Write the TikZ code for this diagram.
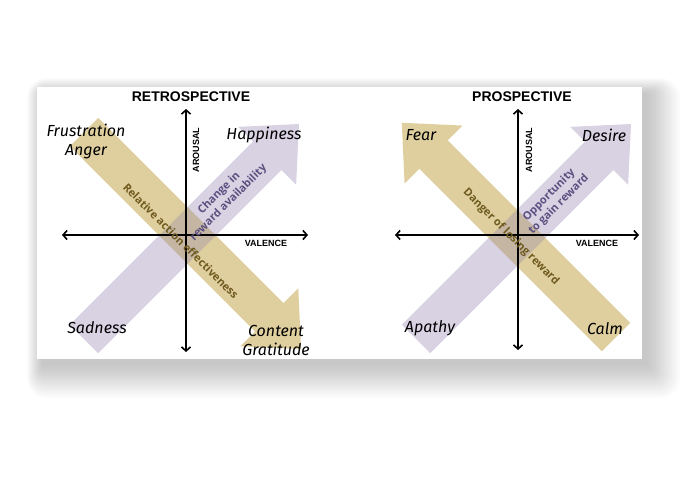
\documentclass[tikz,border=0pt]{standalone}
\usepackage{fontspec}
\setmainfont{Liberation Sans}
\newfontfamily\handfont{Fira Sans}
\newfontfamily\bandfont{Open Sans}
\usepackage{tikz}
\usetikzlibrary{arrows.meta,positioning}

\definecolor{bandtan}{RGB}{224,207,158}
\definecolor{bandlilac}{RGB}{216,210,227}
\definecolor{bandmix}{RGB}{196,182,162}
\definecolor{tantext}{RGB}{110,90,30}
\definecolor{lilactext}{RGB}{92,80,128}

% wide band arrow: tail, angle, length
\newcommand{\bandpath}[3]{[shift={#1}, rotate=#2] (0,-20) -- (#3-45,-20) -- (#3-45,-41) -- (#3,0) -- (#3-45,41) -- (#3-45,20) -- (0,20) -- cycle}

\begin{document}
\begin{tikzpicture}[x=1pt, y=-1pt,
    axis/.style={line width=1.6pt, {Straight Barb[length=4pt,width=9pt]}-{Straight Barb[length=4pt,width=9pt]}},
    title/.style={font=\fontsize{14}{16}\selectfont\bfseries},
    axlabel/.style={font=\fontsize{9}{10}\selectfont\bfseries},
    emotion/.style={font=\handfont\itshape\fontsize{16}{19}\selectfont, align=center},
    tanlabel/.style={font=\bandfont\bfseries\fontsize{11}{13}\selectfont, text=tantext, rotate=-45},
    lilaclabel/.style={font=\bandfont\bfseries\fontsize{11}{13.5}\selectfont, text=lilactext, rotate=45, align=center}]
  \useasboundingbox (0,0) rectangle (700,500);

  % shadow and panel
  \foreach \i in {1,...,20}
    \fill[black, opacity=0.013, rounded corners=\i pt] (43-\i*0.8, 94-\i*0.8) rectangle (646+\i*1.7, 364+\i*1.7);
  \fill[white] (37,87) rectangle (642,359);

  % bands
  \fill[bandlilac] \bandpath{(84,339)}{45}{304};
  \fill[bandtan] \bandpath{(84,132)}{-45}{307};
  \begin{scope}
    \clip \bandpath{(84,339)}{45}{304};
    \fill[bandmix] \bandpath{(84,132)}{-45}{307};
  \end{scope}
  \fill[bandlilac] \bandpath{(416,339)}{45}{304};
  \fill[bandtan] \bandpath{(616,337)}{135}{303};
  \begin{scope}
    \clip \bandpath{(416,339)}{45}{304};
    \fill[bandmix] \bandpath{(616,337)}{135}{303};
  \end{scope}

  % axes
  \coordinate (lW) at (62,235);
  \coordinate (lE) at (308,235);
  \coordinate (lN) at (186,109);
  \coordinate (lS) at (186,352);
  \coordinate (rW) at (395,235);
  \coordinate (rE) at (639,235);
  \coordinate (rN) at (518,109);
  \coordinate (rS) at (518,350);
  \draw[axis] (lW) -- (lE);
  \draw[axis] (lS) -- (lN);
  \draw[axis] (rW) -- (rE);
  \draw[axis] (rS) -- (rN);

  \node[title] at (191,97) (retro) {RETROSPECTIVE};
  \node[title] at (522,97) (pro) {PROSPECTIVE};
  \node[axlabel, rotate=90] at (196,150) (lar) {AROUSAL};
  \node[axlabel] at (266,243) (lval) {VALENCE};
  \node[axlabel, rotate=90] at (529,150) (rar) {AROUSAL};
  \node[axlabel] at (597,243) (rval) {VALENCE};

  \node[tanlabel] at (181,241) (effect) {Relative action effectiveness};
  \node[lilaclabel] at (224,198) (change) {Change in\\reward availability};
  \node[tanlabel] at (511,237) (danger) {Danger of losing reward};
  \node[lilaclabel] at (554,200) (oppo) {Opportunity\\to gain reward};

  \node[emotion] at (86,141) (frust) {Frustration\\Anger};
  \node[emotion] at (264,135) (happy) {Happiness};
  \node[emotion] at (97,328) (sad) {Sadness};
  \node[emotion] at (276,340) (content) {Content\\Gratitude};
  \node[emotion] at (421,135) (fear) {Fear};
  \node[emotion] at (604,135) (desire) {Desire};
  \node[emotion] at (430,328) (apathy) {Apathy};
  \node[emotion] at (605,329) (calm) {Calm};
\end{tikzpicture}
\end{document}
